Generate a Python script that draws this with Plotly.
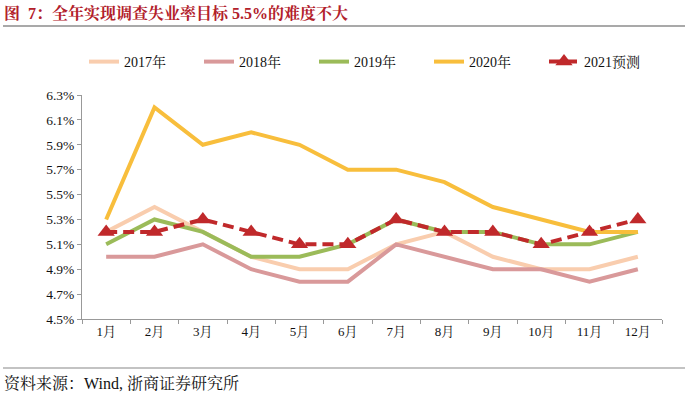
import plotly.graph_objects as go

months = ["1月", "2月", "3月", "4月", "5月", "6月", "7月", "8月", "9月", "10月", "11月", "12月"]
y2017 = [5.2, 5.4, 5.2, 5.0, 4.9, 4.9, 5.1, 5.2, 5.0, 4.9, 4.9, 5.0]
y2018 = [5.0, 5.0, 5.1, 4.9, 4.8, 4.8, 5.1, 5.0, 4.9, 4.9, 4.8, 4.9]
y2019 = [5.1, 5.3, 5.2, 5.0, 5.0, 5.1, 5.3, 5.2, 5.2, 5.1, 5.1, 5.2]
y2020 = [5.3, 6.2, 5.9, 6.0, 5.9, 5.7, 5.7, 5.6, 5.4, 5.3, 5.2, 5.2]
y2021 = [5.2, 5.2, 5.3, 5.2, 5.1, 5.1, 5.3, 5.2, 5.2, 5.1, 5.2, 5.3]
yticks = [4.5, 4.7, 4.9, 5.1, 5.3, 5.5, 5.7, 5.9, 6.1, 6.3]

FONT = "Liberation Serif, Times New Roman, Noto Serif CJK SC, Noto Sans CJK SC, serif"

fig = go.Figure()
series = [
    ("2017年", y2017, "#F9CDAE"),
    ("2018年", y2018, "#D9999A"),
    ("2019年", y2019, "#9BBB59"),
    ("2020年", y2020, "#F8BE3C"),
]
for name, ys, col in series:
    fig.add_trace(go.Scatter(x=months, y=ys, name=name, mode="lines",
                             line=dict(color=col, width=4)))
fig.add_trace(go.Scatter(x=months, y=y2021, name="2021预测", mode="lines+markers",
                         line=dict(color="#C0292B", width=4, dash="11px,6px"),
                         marker=dict(symbol="triangle-up", size=15, color="#C0292B")))

W, H = 688, 397
L, R, T, B = 82, 26, 95, 78
pw, ph = W - L - R, H - T - B

def px(x):
    return (x - L) / pw

def py(y):
    return (H - B - y) / ph

fig.update_layout(
    width=W, height=H,
    margin=dict(l=L, r=R, t=T, b=B, autoexpand=False),
    paper_bgcolor="white", plot_bgcolor="white",
    font=dict(family=FONT, size=13, color="#111"),
    showlegend=True,
    legend=dict(orientation="h", x=px(84), y=py(62), xanchor="left", yanchor="middle",
                entrywidth=70, entrywidthmode="pixels",
                font=dict(family=FONT, size=14, color="#111"),
                bgcolor="rgba(0,0,0,0)"),
    xaxis=dict(range=[-0.5, 11.5], showgrid=False, showline=True, linecolor="#999", linewidth=1,
               ticks="outside", ticklen=4, tickcolor="#999", tickson="boundaries",
               tickfont=dict(family=FONT, size=13, color="#111"), fixedrange=True),
    yaxis=dict(range=[4.5, 6.3], tickvals=yticks, ticktext=[f"{v:.1f}%" for v in yticks],
               showgrid=False, zeroline=False, showline=True, linecolor="#999", linewidth=1,
               ticks="outside", ticklen=4, tickcolor="#999",
               tickfont=dict(family=FONT, size=13.5, color="#111"), fixedrange=True),
    annotations=[
        dict(text="<b>图  7：全年实现调查失业率目标 5.5%的难度不大</b>", x=px(2), y=py(13),
             xref="paper", yref="paper", xanchor="left", yanchor="middle", showarrow=False,
             font=dict(family=FONT, size=16, color="#B2202A")),
        dict(text="资料来源：Wind, 浙商证券研究所", x=px(2), y=py(383),
             xref="paper", yref="paper", xanchor="left", yanchor="middle", showarrow=False,
             font=dict(family=FONT, size=16, color="#111")),
    ],
    shapes=[
        dict(type="line", xref="paper", yref="paper", x0=px(3), x1=px(685), y0=py(26), y1=py(26),
             line=dict(color="#555", width=1.2)),
        dict(type="line", xref="paper", yref="paper", x0=px(3), x1=px(685), y0=py(368), y1=py(368),
             line=dict(color="#888", width=1.2)),
    ],
)

fig.write_html("out.html", config={"displayModeBar": False},
               post_script="document.body.style.margin='0';")
